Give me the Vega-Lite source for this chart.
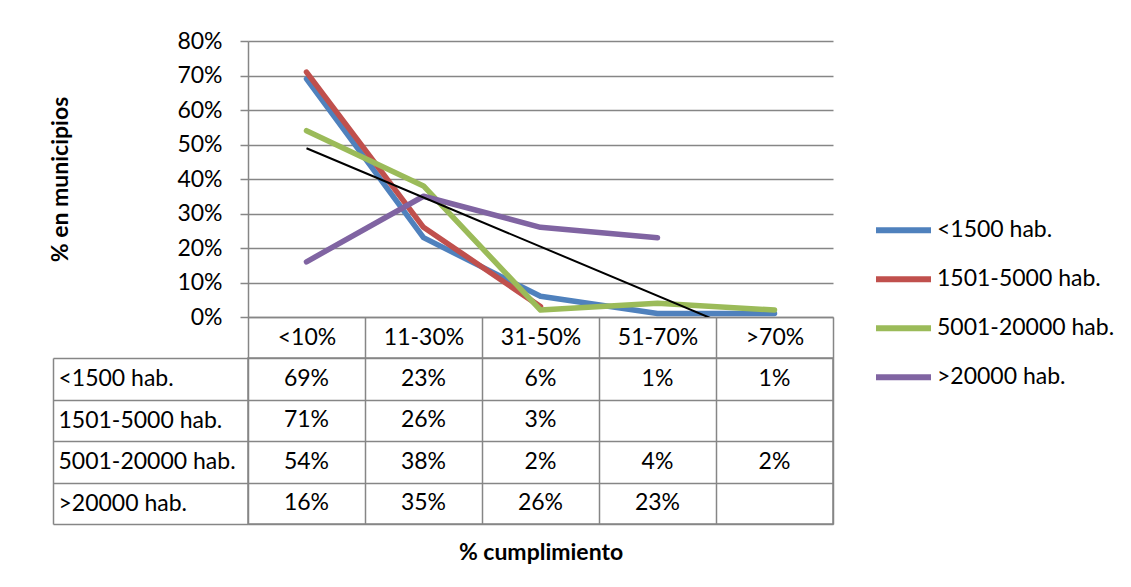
{
  "$schema": "https://vega.github.io/schema/vega-lite/v6.json",
  "autosize": {"type": "none"},
  "padding": {"left": 248, "top": 41, "right": 883, "bottom": 546},
  "background": "white",
  "config": {
    "font": "Lato",
    "view": {"stroke": null},
    "axis": {
      "labelFont": "Lato", "labelFontSize": 23, "labelColor": "#000000",
      "titleFont": "Lato", "titleFontSize": 23, "titleColor": "#000000", "titleFontWeight": "bold",
      "domainColor": "#868686", "tickColor": "#868686", "gridColor": "#868686",
      "domainWidth": 1.5, "tickWidth": 1.5, "gridWidth": 1.5, "gridOpacity": 1,
      "labelOverlap": false, "labelLimit": 0
    },
    "legend": {
      "labelFont": "Lato", "labelFontSize": 23, "labelColor": "#000000", "labelLimit": 0
    }
  },
  "datasets": {
    "d": [
      {"series": "<1500 hab.", "cat": "<10%", "value": 0.69},
      {"series": "<1500 hab.", "cat": "11-30%", "value": 0.23},
      {"series": "<1500 hab.", "cat": "31-50%", "value": 0.06},
      {"series": "<1500 hab.", "cat": "51-70%", "value": 0.01},
      {"series": "<1500 hab.", "cat": ">70%", "value": 0.01},
      {"series": "1501-5000 hab.", "cat": "<10%", "value": 0.71},
      {"series": "1501-5000 hab.", "cat": "11-30%", "value": 0.26},
      {"series": "1501-5000 hab.", "cat": "31-50%", "value": 0.03},
      {"series": "5001-20000 hab.", "cat": "<10%", "value": 0.54},
      {"series": "5001-20000 hab.", "cat": "11-30%", "value": 0.38},
      {"series": "5001-20000 hab.", "cat": "31-50%", "value": 0.02},
      {"series": "5001-20000 hab.", "cat": "51-70%", "value": 0.04},
      {"series": "5001-20000 hab.", "cat": ">70%", "value": 0.02},
      {"series": ">20000 hab.", "cat": "<10%", "value": 0.16},
      {"series": ">20000 hab.", "cat": "11-30%", "value": 0.35},
      {"series": ">20000 hab.", "cat": "31-50%", "value": 0.26},
      {"series": ">20000 hab.", "cat": "51-70%", "value": 0.23}
    ],
    "trend": [
      {"cat": "<10%", "value": 0.489},
      {"cat": ">70%", "value": -0.081}
    ]
  },
  "bounds": "flush",
  "spacing": 41,
  "vconcat": [
    {
      "width": 585,
      "height": 276,
      "view": {"stroke": null},
      "layer": [
        {
          "data": {"name": "d"},
          "mark": {"type": "line", "strokeWidth": 5.5, "strokeCap": "round", "strokeJoin": "round"},
          "encoding": {
            "x": {
              "field": "cat", "type": "nominal",
              "sort": ["<10%", "11-30%", "31-50%", "51-70%", ">70%"],
              "scale": {"type": "band", "paddingInner": 0, "paddingOuter": 0},
              "bandPosition": 0.5,
              "axis": {
                "title": null, "tickBand": "extent", "tickSize": 41, "labelPadding": -20.5,
                "labelBaseline": "middle", "labelAngle": 0, "grid": false, "domain": true,
                "labelOverlap": false
              }
            },
            "y": {
              "field": "value", "type": "quantitative",
              "scale": {"domain": [0, 0.8], "nice": false, "zero": false},
              "axis": {
                "tickCount": 8, "format": ".0%", "tickSize": 8, "labelPadding": 18, "grid": true, "domain": true,
                "labelOverlap": false, "labelBound": false, "labelFlush": false,
                "title": "% en municipios", "titleX": -188, "titleY": 138, "titleAngle": -90,
                "titleBaseline": "middle", "titleAlign": "center"
              }
            },
            "color": {
              "field": "series", "type": "nominal",
              "scale": {
                "domain": ["<1500 hab.", "1501-5000 hab.", "5001-20000 hab.", ">20000 hab."],
                "range": ["#4F81BD", "#C0504D", "#9BBB59", "#8064A2"]
              },
              "legend": {
                "title": null, "orient": "none", "legendX": 625, "legendY": 165,
                "symbolType": "stroke", "symbolSize": 3025, "symbolStrokeWidth": 6,
                "labelOffset": 3, "rowPadding": 0, "padding": 0, "clipHeight": 48.5
              }
            }
          }
        },
        {
          "data": {"name": "trend"},
          "mark": {"type": "line", "color": "#000000", "strokeWidth": 2, "clip": true},
          "encoding": {
            "x": {
              "field": "cat", "type": "nominal",
              "sort": ["<10%", "11-30%", "31-50%", "51-70%", ">70%"],
              "bandPosition": 0.5
            },
            "y": {"field": "value", "type": "quantitative"}
          }
        }
      ]
    },
    {
      "width": 585,
      "height": 166,
      "view": {"stroke": "#868686", "strokeWidth": 1.5},
      "data": {"name": "d"},
      "mark": {"type": "text", "fontSize": 23, "font": "Lato", "color": "#000000"},
      "encoding": {
        "x": {
          "field": "cat", "type": "nominal",
          "sort": ["<10%", "11-30%", "31-50%", "51-70%", ">70%"],
          "scale": {"type": "band", "paddingInner": 0, "paddingOuter": 0},
          "axis": {
            "orient": "bottom", "labels": false, "ticks": false, "domain": false, "grid": true,
            "tickBand": "extent", "title": "% cumplimiento", "titleY": 28, "titleBaseline": "middle"
          }
        },
        "y": {
          "field": "series", "type": "nominal",
          "sort": ["<1500 hab.", "1501-5000 hab.", "5001-20000 hab.", ">20000 hab."],
          "scale": {"type": "band", "paddingInner": 0, "paddingOuter": 0},
          "axis": {
            "title": null, "offset": 195, "tickSize": -195, "tickBand": "extent", "grid": true,
            "domain": true, "labelAlign": "left", "labelPadding": 190, "labelBaseline": "middle"
          }
        },
        "text": {"field": "value", "type": "quantitative", "format": ".0%"}
      }
    }
  ]
}
